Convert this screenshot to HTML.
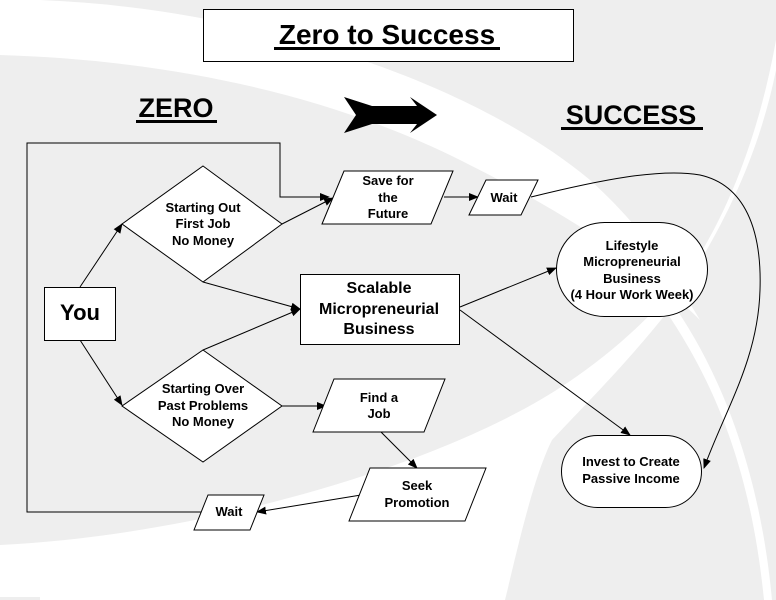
<!DOCTYPE html>
<html><head><meta charset="utf-8"><style>
html,body{margin:0;padding:0;background:#eee;}
svg{display:block;}
text{font-family:"Liberation Sans",Arial,sans-serif;font-weight:bold;fill:#000;}
</style></head><body>
<svg width="776" height="600" viewBox="0 0 776 600" xmlns="http://www.w3.org/2000/svg">
<defs>
<marker id="a" markerWidth="10" markerHeight="8" refX="9" refY="4" orient="auto" markerUnits="userSpaceOnUse">
<path d="M0,0 L10,4 L0,8 Z" fill="#000"/></marker>
</defs>
<rect width="776" height="600" fill="#eee"/>
<!-- background swooshes -->
<path d="M40,0 C250,8 470,80 590,180 C640,225 670,270 700,320 C640,260 560,210 460,160 C330,95 170,60 0,55 L0,0 Z" fill="#fff"/>
<path d="M670,300 C720,370 760,470 772,600 L764,600 C752,480 720,390 665,310 Z" fill="#fff"/>
<path d="M0,545 C200,535 420,470 540,400 C600,365 650,320 690,270 C730,210 760,130 776,40 L776,70 C758,160 718,240 665,315 C625,365 580,410 552,440 C532,480 515,560 505,600 L0,600 Z" fill="#fff"/>
<rect x="0" y="597" width="40" height="3" fill="#eee"/>
<!-- title -->
<rect x="203.5" y="9.5" width="370" height="52" fill="#fff" stroke="#000"/>
<text x="387" y="44" font-size="28" text-anchor="middle">Zero to Success</text>
<rect x="274" y="47" width="226" height="3" fill="#000"/>
<text x="176" y="117" font-size="27" text-anchor="middle">ZERO</text>
<rect x="136" y="120" width="81" height="3" fill="#000"/>
<text x="631" y="124" font-size="27" text-anchor="middle">SUCCESS</text>
<rect x="561" y="127" width="142" height="3" fill="#000"/>
<!-- big arrow -->
<path d="M344,97 L372,106 L417,106 L410,97 L437,115 L410,133 L417,124 L372,124 L344,133 L356,115 Z" fill="#000"/>
<!-- loop line -->
<polyline points="203,512 27,512 27,143 280,143 280,197 329,197" fill="none" stroke="#000" marker-end="url(#a)"/>
<!-- connectors -->
<g stroke="#000" fill="none">
<line x1="80" y1="287" x2="122" y2="224" marker-end="url(#a)"/>
<line x1="80" y1="340" x2="122" y2="405" marker-end="url(#a)"/>
<line x1="282" y1="224" x2="333" y2="198" marker-end="url(#a)"/>
<line x1="203" y1="282" x2="300" y2="309" marker-end="url(#a)"/>
<line x1="203" y1="350" x2="300" y2="309" marker-end="url(#a)"/>
<line x1="282" y1="406" x2="326" y2="406" marker-end="url(#a)"/>
<line x1="444" y1="197" x2="478" y2="197" marker-end="url(#a)"/>
<path d="M531,197 C600,180 660,168 700,175 C745,185 762,230 760,290 C758,360 725,410 704,468" marker-end="url(#a)"/>
<line x1="460" y1="307" x2="556" y2="268" marker-end="url(#a)"/>
<line x1="460" y1="310" x2="630" y2="435" marker-end="url(#a)"/>
<line x1="381" y1="432" x2="417" y2="468" marker-end="url(#a)"/>
<line x1="361" y1="495" x2="257" y2="512" marker-end="url(#a)"/>
</g>
<!-- shapes -->
<g fill="#fff" stroke="#000">
<polygon points="322,224 344,171 453,171 431,224"/>
<polygon points="469,215 486,180 538,180 521,215"/>
<polygon points="203,166 282,224 203,282 122,224"/>
<rect x="44.5" y="287.5" width="71" height="53"/>
<rect x="300.5" y="274.5" width="159" height="70"/>
<polygon points="203,350 282,406 203,462 122,406"/>
<polygon points="313,432 334,379 445,379 424,432"/>
<polygon points="349,521 370,468 486,468 465,521"/>
<polygon points="194,530 208,495 264,495 250,530"/>
<rect x="556.5" y="222.5" width="151" height="94" rx="48" ry="47"/>
<rect x="561.5" y="435.5" width="140" height="72" rx="36" ry="36"/>
</g>
<!-- labels -->
<g font-size="13" text-anchor="middle">
<text x="388" y="185">Save for</text><text x="388" y="202">the</text><text x="388" y="218">Future</text>
<text x="504" y="202">Wait</text>
<text x="203" y="212">Starting Out</text><text x="203" y="228">First Job</text><text x="203" y="245">No Money</text>
<text x="203" y="393">Starting Over</text><text x="203" y="410">Past Problems</text><text x="203" y="426">No Money</text>
<text x="379" y="402">Find a</text><text x="379" y="418">Job</text>
<text x="417" y="490">Seek</text><text x="417" y="507">Promotion</text>
<text x="229" y="516">Wait</text>
<text x="632" y="250">Lifestyle</text><text x="632" y="266">Micropreneurial</text><text x="632" y="283">Business</text><text x="632" y="299">(4 Hour Work Week)</text>
<text x="631" y="466">Invest to Create</text><text x="631" y="483">Passive Income</text>
</g>
<text x="80" y="320" font-size="22" text-anchor="middle">You</text>
<g font-size="16" text-anchor="middle">
<text x="379" y="293">Scalable</text><text x="379" y="314">Micropreneurial</text><text x="379" y="334">Business</text>
</g>
</svg>
</body></html>
